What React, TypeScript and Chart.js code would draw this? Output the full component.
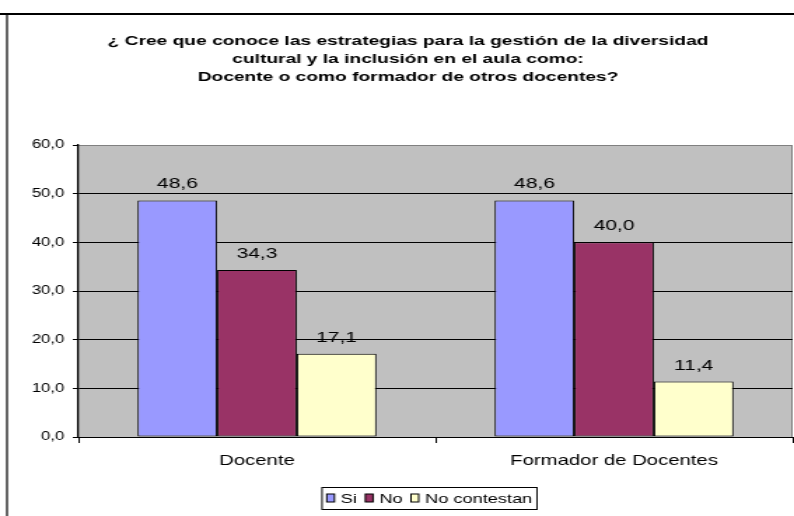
import React, { useEffect, useRef } from 'react';
import { Chart, registerables } from 'chart.js';

Chart.register(...registerables);

// ---------- data ----------
const categories = ['Docente', 'Formador de Docentes'];
const seriesNames = ['Si', 'No', 'No contestan'];
const siValues = [48.6, 48.6];
const noValues = [34.3, 40.0];
const noContestanValues = [17.1, 11.4];
const seriesColors = ['#9999FF', '#993366', '#FFFFCC'];
const yTickValues = [0, 10, 20, 30, 40, 50, 60];
const titleLines = [
  '¿ Cree que conoce las estrategias para la gestión de la diversidad',
  'cultural y la inclusión en el aula como:',
  'Docente o como formador de otros docentes?',
];

// ---------- geometry (canvas is rendered narrower and stretched horizontally) ----------
const CSS_W = 794;
const CSS_H = 516;
const W = 567;
const SX = CSS_W / W;
const px = (cssX: number) => cssX / SX;
const FONT = '"Liberation Sans", Arial, Helvetica, sans-serif';
const fmt = (v: number) => Number(v).toFixed(1).replace('.', ',');

const decorPlugin = {
  id: 'decor',
  beforeDraw(chart: any) {
    const { ctx, chartArea: a } = chart;
    ctx.save();
    ctx.fillStyle = '#ffffff';
    ctx.fillRect(0, 0, chart.width, chart.height);
    ctx.fillStyle = '#C0C0C0';
    ctx.fillRect(a.left, a.top, a.right - a.left, a.bottom - a.top);
    // outer frame (top + left)
    ctx.strokeStyle = '#000';
    ctx.lineWidth = 2;
    ctx.beginPath();
    ctx.moveTo(-5, 14);
    ctx.lineTo(W + 10, 14);
    ctx.stroke();
    ctx.lineWidth = 1.2;
    ctx.beginPath();
    ctx.moveTo(px(7), 13);
    ctx.lineTo(px(7), CSS_H + 10);
    ctx.stroke();
    // plot area border (top + right), gray
    ctx.strokeStyle = '#808080';
    ctx.lineWidth = 1;
    ctx.beginPath();
    ctx.moveTo(a.left, a.top + 0.5);
    ctx.lineTo(a.right - 0.5, a.top + 0.5);
    ctx.lineTo(a.right - 0.5, a.bottom);
    ctx.stroke();
    ctx.restore();
  },
  afterDatasetsDraw(chart: any) {
    const { ctx } = chart;
    ctx.save();
    ctx.fillStyle = '#000';
    ctx.font = `15px ${FONT}`;
    ctx.textAlign = 'center';
    ctx.textBaseline = 'alphabetic';
    chart.data.datasets.forEach((ds: any, i: number) => {
      const meta = chart.getDatasetMeta(i);
      meta.data.forEach((el: any, j: number) => {
        ctx.fillText(fmt(ds.data[j]), el.x, el.y - 12);
      });
    });
    ctx.restore();
  },
  afterDraw(chart: any) {
    const { ctx } = chart;
    ctx.save();
    // title
    ctx.fillStyle = '#000';
    ctx.font = `bold 13.7px ${FONT}`;
    ctx.textAlign = 'center';
    ctx.textBaseline = 'alphabetic';
    const cx = px(408);
    const baselines = [45, 62.8, 80.5];
    titleLines.forEach((t, i) => ctx.fillText(t, cx, baselines[i]));

    // legend
    const boxL = px(322);
    const boxR = px(537);
    const boxT = 487;
    const boxB = 509;
    ctx.fillStyle = '#fff';
    ctx.fillRect(boxL, boxT, boxR - boxL, boxB - boxT);
    ctx.strokeStyle = '#000';
    ctx.lineWidth = 1;
    ctx.strokeRect(boxL, boxT + 0.5, boxR - boxL, boxB - boxT);
    ctx.font = `13px ${FONT}`;
    ctx.textAlign = 'left';
    const sqW = 5.5;
    const sqH = 8;
    const gapSq = 4.5;
    const gapItem = 6;
    const items = chart.data.datasets.map((ds: any) => ({
      label: ds.label,
      color: ds.backgroundColor,
      w: ctx.measureText(ds.label).width,
    }));
    let total = 0;
    items.forEach((it: any, i: number) => {
      total += sqW + gapSq + it.w + (i < items.length - 1 ? gapItem : 0);
    });
    let x = (boxL + boxR) / 2 - total / 2;
    const cy = (boxT + boxB) / 2;
    items.forEach((it: any) => {
      ctx.fillStyle = it.color;
      ctx.fillRect(x, cy - sqH / 2, sqW, sqH);
      ctx.strokeStyle = '#000';
      ctx.strokeRect(x, cy - sqH / 2, sqW, sqH);
      x += sqW + gapSq;
      ctx.fillStyle = '#000';
      ctx.fillText(it.label, x, cy + 4.7);
      x += it.w + gapItem;
    });
    ctx.restore();
  },
};

export default function App() {
  const canvasRef = useRef<HTMLCanvasElement | null>(null);

  useEffect(() => {
    const canvas = canvasRef.current;
    if (!canvas) return;
    const values = [siValues, noValues, noContestanValues];
    const chart = new Chart(canvas, {
      type: 'bar',
      data: {
        labels: categories,
        datasets: seriesNames.map((name, i) => ({
          label: name,
          data: values[i],
          backgroundColor: seriesColors[i],
          borderColor: '#000',
          borderWidth: 1,
          borderSkipped: false,
          categoryPercentage: 0.669,
          barPercentage: 1,
        })),
      },
      options: {
        responsive: false,
        animation: false,
        devicePixelRatio: 1,
        layout: { padding: { left: 0, right: 1, top: 145, bottom: 39 } },
        plugins: {
          legend: { display: false },
          title: { display: false },
          tooltip: { enabled: false },
        },
        scales: {
          x: {
            type: 'category',
            offset: true,
            grid: {
              display: true,
              offset: true,
              drawOnChartArea: false,
              drawTicks: true,
              tickLength: 6,
              color: '#000',
              tickColor: '#000',
            },
            border: { display: true, color: '#000', width: 1 },
            ticks: {
              color: '#000',
              font: { family: FONT, size: 14.5 },
              padding: 9,
              maxRotation: 0,
              autoSkip: false,
            },
            afterFit(scale: any) {
              scale.height = 40;
            },
          },
          y: {
            min: 0,
            max: 60,
            afterBuildTicks(scale: any) {
              scale.ticks = yTickValues.map((v) => ({ value: v }));
            },
            ticks: {
              color: '#000',
              font: { family: FONT, size: 12 },
              padding: 6,
              callback: (v: any) => fmt(v),
            },
            grid: {
              color: (c: any) => (c.tick && c.tick.value === 60 ? '#808080' : '#000'),
              tickColor: '#000',
              tickLength: 4,
              lineWidth: 1,
            },
            border: { display: true, color: '#000', width: 1.3 },
            afterFit(scale: any) {
              scale.width = 56;
            },
          },
        },
      },
      plugins: [decorPlugin],
    });
    canvas.style.width = `${CSS_W}px`;
    canvas.style.height = `${CSS_H}px`;
    return () => chart.destroy();
  }, []);

  return (
    <div style={{ position: 'absolute', left: 0, top: 0, width: CSS_W, height: CSS_H, overflow: 'hidden', background: '#fff' }}>
      <canvas
        ref={canvasRef}
        width={W}
        height={CSS_H}
        style={{ width: `${CSS_W}px`, height: `${CSS_H}px`, display: 'block' }}
      />
    </div>
  );
}
